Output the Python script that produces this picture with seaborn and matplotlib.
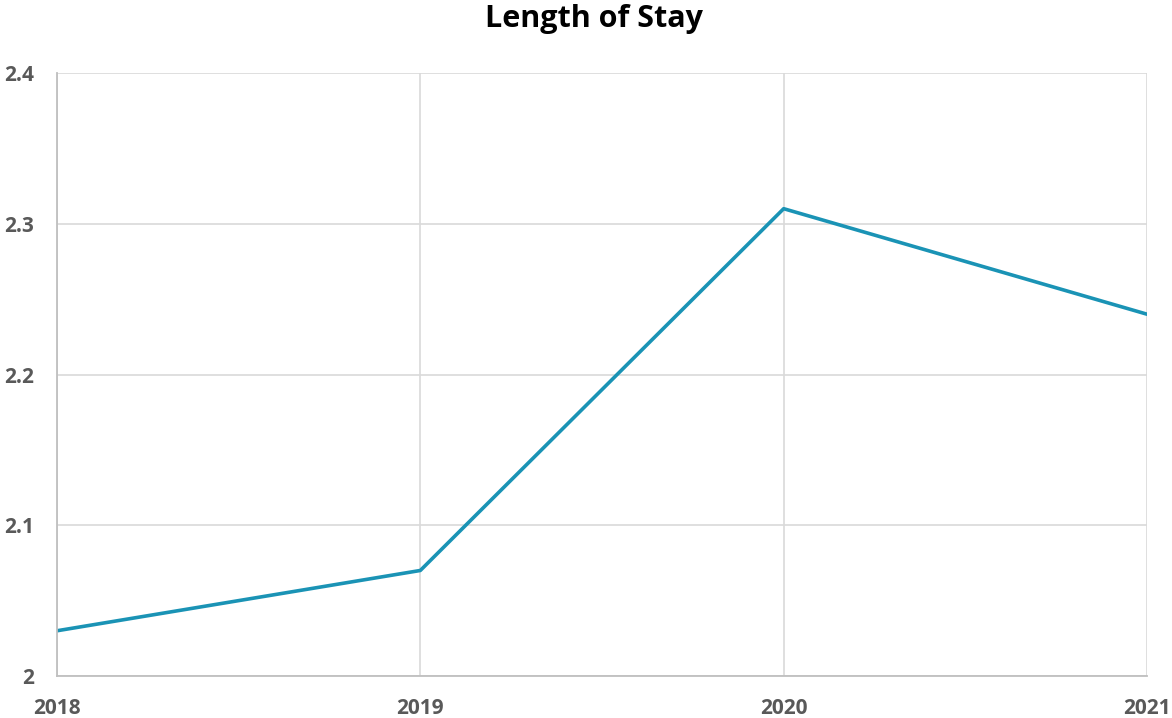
import matplotlib
matplotlib.use("Agg")
import matplotlib.pyplot as plt
import seaborn as sns
import pandas as pd

# Chart data
years = [2018, 2019, 2020, 2021]
length_of_stay = [2.03, 2.07, 2.31, 2.24]
y_ticks = [2, 2.1, 2.2, 2.3, 2.4]
y_tick_labels = ["2", "2.1", "2.2", "2.3", "2.4"]

sns.set_theme(style="white")
plt.rcParams['font.family'] = ['Open Sans', 'DejaVu Sans']

TEXT = '#595959'
GRID = '#d9d9d9'
AXIS = '#bfbfbf'
LINE = '#1a93b5'

df = pd.DataFrame({'year': years, 'los': length_of_stay})

fig = plt.figure(figsize=(11.72, 7.18), dpi=100)
ax = fig.add_axes([0.0486, 0.0585, 0.9301, 0.8398])

sns.lineplot(data=df, x='year', y='los', ax=ax, color=LINE, linewidth=2.6)

ax.set_xlim(years[0], years[-1])
ax.set_ylim(y_ticks[0], y_ticks[-1])
ax.set_xticks(years)
ax.set_xticklabels([str(y) for y in years])
ax.set_yticks(y_ticks)
ax.set_yticklabels(y_tick_labels)

ax.grid(True, axis='both', color=GRID, linewidth=1.2)
ax.set_axisbelow(True)
for side in ['top', 'right']:
    ax.spines[side].set_visible(False)
for side in ['left', 'bottom']:
    ax.spines[side].set_color(AXIS)
    ax.spines[side].set_linewidth(1.3)

ax.tick_params(axis='both', length=0, labelsize=15, labelcolor=TEXT)
ax.tick_params(axis='y', pad=16.5)
ax.tick_params(axis='x', pad=16)
for lbl in ax.get_xticklabels() + ax.get_yticklabels():
    lbl.set_fontweight('bold')

ax.set_xlabel('')
ax.set_ylabel('')
fig.text(0.507, 0.994, 'Length of Stay', ha='center', va='top',
         fontsize=22, fontweight='bold', color='black')

fig.savefig('out.png', dpi=100)
